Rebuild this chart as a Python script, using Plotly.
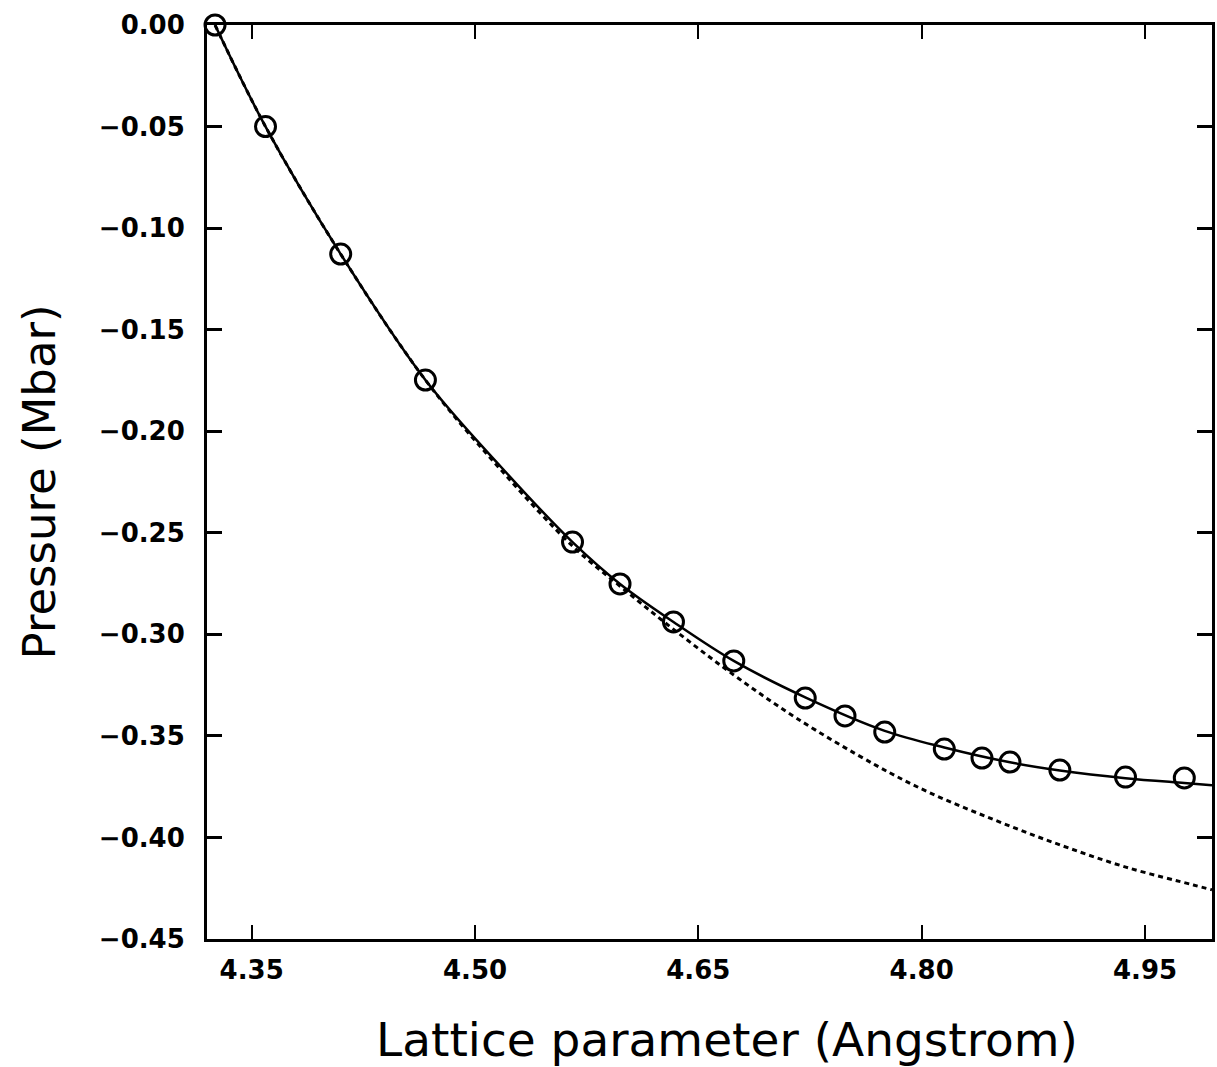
import plotly.graph_objects as go

# Measured points (open circles)
pts_x = [4.3254, 4.3593, 4.4098, 4.4667, 4.5655, 4.5974, 4.6333, 4.6738, 4.7218,
         4.7485, 4.7752, 4.8152, 4.8405, 4.8593, 4.8928, 4.9369, 4.9764]
pts_y = [0.000, -0.050, -0.1128, -0.1748, -0.2546, -0.2752, -0.2939, -0.3131, -0.3314,
         -0.3402, -0.3481, -0.3565, -0.3609, -0.3629, -0.3668, -0.3703, -0.3707]

# Solid fitted curve
fit_x = [4.3254, 4.3593, 4.4098, 4.4667, 4.518, 4.5655, 4.5974, 4.6333, 4.6738, 4.7218,
         4.7752, 4.8152, 4.8593, 4.8928, 4.9369, 4.9764, 4.995]
fit_y = [0.000, -0.050, -0.1128, -0.1748, -0.218, -0.2546, -0.2752, -0.2939, -0.3131, -0.3310,
         -0.3475, -0.3557, -0.3630, -0.3670, -0.3708, -0.3732, -0.3743]

# Dashed curve
dash_x = [4.3254, 4.3593, 4.4098, 4.4667, 4.518, 4.5662, 4.5981, 4.6340, 4.6738, 4.7158,
          4.7691, 4.8043, 4.8490, 4.8930, 4.9371, 4.9825, 4.995]
dash_y = [0.000, -0.050, -0.1128, -0.1748, -0.2195, -0.2570, -0.2767, -0.2979, -0.3200, -0.3412,
          -0.3644, -0.3776, -0.3914, -0.4037, -0.4146, -0.4234, -0.4258]

x_ticks = [4.35, 4.50, 4.65, 4.80, 4.95]
y_ticks = [0.00, -0.05, -0.10, -0.15, -0.20, -0.25, -0.30, -0.35, -0.40, -0.45]

fig = go.Figure()
fig.add_trace(go.Scatter(x=dash_x, y=dash_y, mode="lines",
                         line=dict(color="black", width=3, dash="5px,4px", shape="spline", smoothing=1.0),
                         showlegend=False, hoverinfo="skip"))
fig.add_trace(go.Scatter(x=fit_x, y=fit_y, mode="lines",
                         line=dict(color="black", width=2.5, shape="spline", smoothing=1.0),
                         showlegend=False, hoverinfo="skip"))
fig.add_trace(go.Scatter(x=pts_x, y=pts_y, mode="markers", cliponaxis=False,
                         marker=dict(symbol="circle-open", size=20, color="black",
                                     line=dict(color="black", width=3)),
                         showlegend=False))

tickfont = dict(family="DejaVu Sans, sans-serif", size=26, color="black", weight="bold")
titlefont_x = dict(family="DejaVu Sans, sans-serif", size=47, color="black")
titlefont_y = dict(family="DejaVu Sans, sans-serif", size=45, color="black")

fig.update_layout(
    width=1217, height=1067,
    margin=dict(l=207, r=2, t=25, b=128),
    paper_bgcolor="white", plot_bgcolor="white",
    xaxis=dict(range=[4.32, 4.995], tickvals=x_ticks, ticktext=[f"{v:.2f}" for v in x_ticks],
               ticks="inside", ticklen=14, tickwidth=2, tickcolor="black",
               showline=True, linecolor="black", linewidth=3, mirror="ticks",
               showgrid=False, zeroline=False, tickfont=tickfont, ticklabelstandoff=6),
    yaxis=dict(range=[-0.45, 0.0], tickvals=y_ticks,
               ticktext=[("0.00" if v == 0 else "\u2212" + f"{abs(v):.2f}") for v in y_ticks],
               ticks="inside", ticklen=15, tickwidth=3, tickcolor="black",
               showline=True, linecolor="black", linewidth=3, mirror="ticks",
               showgrid=False, zeroline=False, tickfont=tickfont, ticklabelstandoff=14),
    annotations=[
        dict(text="Lattice parameter (Angstrom)", xref="paper", yref="paper",
             x=0.517, y=-0.1105, xanchor="center", yanchor="middle", showarrow=False,
             font=titlefont_x),
        dict(text="Pressure (Mbar)", xref="paper", yref="paper", textangle=-90,
             x=-0.1667, y=0.5, xanchor="center", yanchor="middle", showarrow=False,
             font=titlefont_y),
    ],
)

fig.write_html("out.html")
